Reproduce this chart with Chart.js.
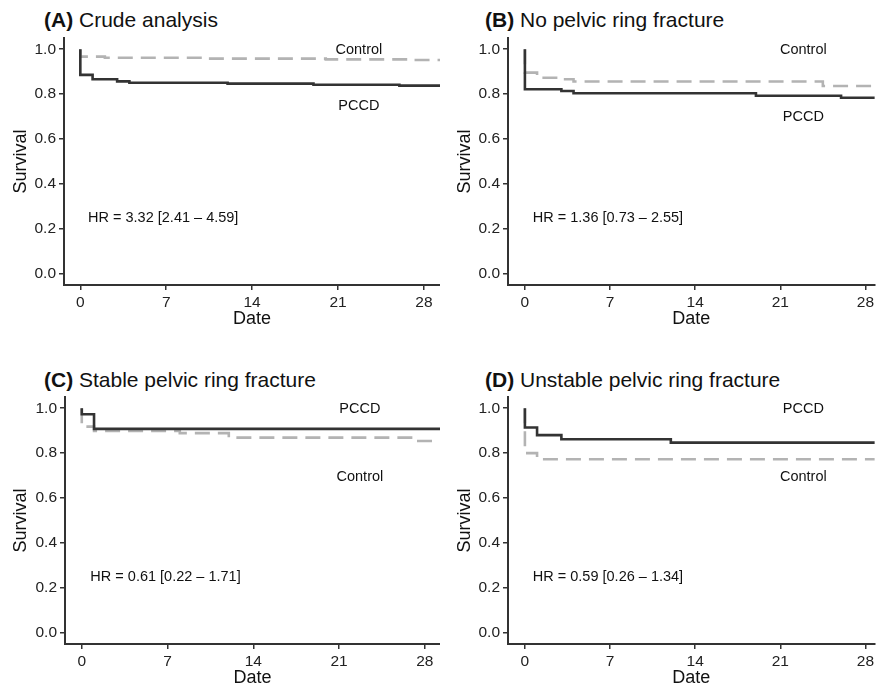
<!DOCTYPE html>
<html>
<head>
<meta charset="utf-8">
<script src="https://cdn.jsdelivr.net/npm/chart.js@4.4.1/dist/chart.umd.min.js"></script>
<style>
  body { margin: 0; background: #fff; width: 877px; height: 685px; position: relative; overflow: hidden;
         font-family: "Liberation Sans", Arial, sans-serif; }
  canvas { position: absolute; }
  .title { position: absolute; font-size: 21px; line-height: 21px; color: #111; white-space: nowrap; }
</style>
</head>
<body>
<div class="title" style="left:44px;top:9px"><b>(A)</b> Crude analysis</div>
<div class="title" style="left:485px;top:9px"><b>(B)</b> No pelvic ring fracture</div>
<div class="title" style="left:44px;top:369px"><b>(C)</b> Stable pelvic ring fracture</div>
<div class="title" style="left:485px;top:369px"><b>(D)</b> Unstable pelvic ring fracture</div>

<canvas id="chartA" width="440" height="345" style="left:0;top:0"></canvas>
<canvas id="chartB" width="437" height="345" style="left:440px;top:0"></canvas>
<canvas id="chartC" width="440" height="345" style="left:0;top:360px"></canvas>
<canvas id="chartD" width="437" height="345" style="left:440px;top:360px"></canvas>

<script>
// Graduations des axes
const xTicks = [0, 7, 14, 21, 28];
const yTicks = [0, 0.2, 0.4, 0.6, 0.8, 1.0];

// (A) Analyse brute : temps (jours) et survie
const timeA_pccd = [0, 0, 1, 3, 4, 12, 19, 26, 31];
const survA_pccd = [1, 0.886, 0.866, 0.857, 0.851, 0.847, 0.842, 0.838, 0.838];
const timeA_ctrl = [0, 0, 2, 10, 20, 27, 31];
const survA_ctrl = [1, 0.967, 0.962, 0.958, 0.955, 0.952, 0.952];

// (B) Pas de fracture de l'anneau pelvien
const timeB_pccd = [0, 0, 3, 4, 19, 26, 31];
const survB_pccd = [1, 0.822, 0.814, 0.804, 0.793, 0.784, 0.784];
const timeB_ctrl = [0, 0, 1, 3, 4, 24.5, 31];
const survB_ctrl = [1, 0.896, 0.873, 0.866, 0.856, 0.836, 0.836];

// (C) Fracture stable
const timeC_pccd = [0, 0, 1, 31];
const survC_pccd = [1, 0.973, 0.908, 0.908];
const timeC_ctrl = [0, 0, 1, 8, 12, 27, 31];
const survC_ctrl = [1, 0.918, 0.899, 0.889, 0.869, 0.854, 0.854];

// (D) Fracture instable
const timeD_pccd = [0, 0, 1, 3, 12, 31];
const survD_pccd = [1, 0.914, 0.880, 0.862, 0.847, 0.847];
const timeD_ctrl = [0, 0, 1, 31];
const survD_ctrl = [1, 0.800, 0.773, 0.773];

const hrTexts = ['HR = 3.32 [2.41 \u2013 4.59]', 'HR = 1.36 [0.73 \u2013 2.55]',
                 'HR = 0.61 [0.22 \u2013 1.71]', 'HR = 0.59 [0.26 \u2013 1.34]'];

const FONT = '"Liberation Sans", Arial, sans-serif';
const DARK = '#333333';
const GREY = '#b3b3b3';

const toPoints = (times, surv) => times.map((t, i) => ({ x: t, y: surv[i] }));

// Plugin pour les étiquettes de texte (Control / PCCD / HR)
const textLabels = {
  id: 'textLabels',
  afterDatasetsDraw(chart, args, opts) {
    const { ctx, scales: { x, y } } = chart;
    ctx.save();
    ctx.font = '14.5px ' + FONT;
    ctx.fillStyle = '#111';
    ctx.textBaseline = 'middle';
    (opts.items || []).forEach(it => {
      ctx.textAlign = it.align;
      ctx.fillText(it.text, x.getPixelForValue(it.x), y.getPixelForValue(it.y));
    });
    ctx.restore();
  }
};

function makeChart(id, p) {
  const ctx = document.getElementById(id).getContext('2d');
  return new Chart(ctx, {
    type: 'line',
    data: {
      datasets: [{
        label: 'PCCD',
        data: toPoints(p.pccd[0], p.pccd[1]),
        borderColor: DARK,
        borderWidth: 2.6,
        stepped: true,
        pointRadius: 0,
        fill: false
      }, {
        label: 'Control',
        data: toPoints(p.ctrl[0], p.ctrl[1]),
        borderColor: GREY,
        borderWidth: 2.6,
        borderDash: [15, 8],
        stepped: true,
        pointRadius: 0,
        fill: false
      }]
    },
    options: {
      responsive: false,
      animation: false,
      layout: { padding: { top: p.padTop, bottom: p.padBottom, left: 0, right: 0 } },
      scales: {
        x: {
          type: 'linear',
          min: p.xMin,
          max: p.xMax,
          afterBuildTicks: s => { s.ticks = xTicks.map(v => ({ value: v })); },
          afterFit: s => { s.height = 45; },
          ticks: { color: '#222', font: { family: FONT, size: 15.5 }, padding: 3, maxRotation: 0 },
          grid: { drawOnChartArea: false, drawTicks: true, tickLength: 5, color: DARK, lineWidth: 1.5 },
          border: { display: true, color: DARK, width: 2 },
          title: { display: true, text: 'Date', color: '#111', font: { family: FONT, size: 18 }, padding: { top: 0, bottom: 0 } }
        },
        y: {
          min: -0.05,
          max: 1.05,
          afterBuildTicks: s => { s.ticks = yTicks.map(v => ({ value: v })); },
          afterFit: s => { s.width = p.yWidth; },
          ticks: { color: '#222', font: { family: FONT, size: 15.5 }, padding: 3, callback: v => v.toFixed(1) },
          grid: { drawOnChartArea: false, drawTicks: true, tickLength: 5, color: DARK, lineWidth: 1.5 },
          border: { display: true, color: DARK, width: 2 },
          title: { display: true, text: 'Survival', color: '#111', font: { family: FONT, size: 18 }, padding: { top: p.yTitlePad, bottom: 0 } }
        }
      },
      plugins: {
        legend: { display: false },
        tooltip: { enabled: false },
        textLabels: { items: p.labels }
      }
    },
    plugins: [textLabels]
  });
}

makeChart('chartA', {
  pccd: [timeA_pccd, survA_pccd], ctrl: [timeA_ctrl, survA_ctrl],
  xMin: -1.33, xMax: 29.31, yWidth: 64, padTop: 38, padBottom: 15, yTitlePad: 10,
  labels: [
    { text: 'Control', x: 22.7, y: 0.997, align: 'center' },
    { text: 'PCCD', x: 22.7, y: 0.745, align: 'center' },
    { text: hrTexts[0], x: 0.63, y: 0.25, align: 'left' }
  ]
});

makeChart('chartB', {
  pccd: [timeB_pccd, survB_pccd], ctrl: [timeB_ctrl, survB_ctrl],
  xMin: -1.39, xMax: 28.76, yWidth: 68, padTop: 38, padBottom: 15, yTitlePad: 14,
  labels: [
    { text: 'Control', x: 22.9, y: 0.997, align: 'center' },
    { text: 'PCCD', x: 22.9, y: 0.698, align: 'center' },
    { text: hrTexts[1], x: 0.65, y: 0.25, align: 'left' }
  ]
});

makeChart('chartC', {
  pccd: [timeC_pccd, survC_pccd], ctrl: [timeC_ctrl, survC_ctrl],
  xMin: -1.37, xMax: 29.24, yWidth: 65, padTop: 37, padBottom: 16, yTitlePad: 10,
  labels: [
    { text: 'PCCD', x: 22.7, y: 0.997, align: 'center' },
    { text: 'Control', x: 22.7, y: 0.695, align: 'center' },
    { text: hrTexts[2], x: 0.7, y: 0.25, align: 'left' }
  ]
});

makeChart('chartD', {
  pccd: [timeD_pccd, survD_pccd], ctrl: [timeD_ctrl, survD_ctrl],
  xMin: -1.39, xMax: 28.76, yWidth: 68, padTop: 37, padBottom: 16, yTitlePad: 14,
  labels: [
    { text: 'PCCD', x: 22.9, y: 0.997, align: 'center' },
    { text: 'Control', x: 22.9, y: 0.695, align: 'center' },
    { text: hrTexts[3], x: 0.65, y: 0.25, align: 'left' }
  ]
});
</script>
</body>
</html>
